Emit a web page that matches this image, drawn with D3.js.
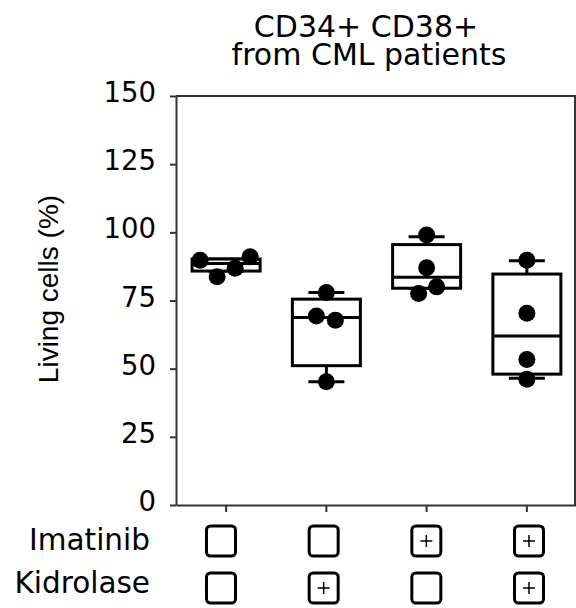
<!DOCTYPE html>
<html>
<head>
<meta charset="utf-8">
<script src="https://cdn.jsdelivr.net/npm/d3@7"></script>
<style>
	body { margin: 0; background: #fff; }
	svg { display: block; }
	.axis path, .axis line { stroke: #333; stroke-width: 2; }
	.axis text { font-family: "DejaVu Sans", Verdana, sans-serif; font-size: 27.5px; fill: #000; }
</style>
</head>
<body>
<div id="chart"></div>
<script>
// Conditions (one per group)
const groups    = ["ctrl", "kid", "ima", "ima+kid"];
const imatinib  = [false, false, true, true];
const kidrolase = [false, true, false, true];

// Living cells (%) per patient, one list per group
const livingCells = [
	[89.8, 83.7, 86.8, 91.0],
	[77.9, 69.3, 67.8, 45.2],
	[99.0, 77.6, 80.0, 87.0],
	[89.8, 70.3, 53.4, 46.1]
];

// Box plot statistics per group
const whiskerLow  = [85.8, 45.2, 79.5, 46.5];
const boxQ1       = [85.8, 51.1, 79.5, 48.0];
const boxMedian   = [88.6, 68.8, 83.5, 62.0];
const boxQ3       = [90.2, 75.5, 95.5, 84.7];
const whiskerHigh = [90.2, 77.9, 98.4, 89.6];

const yTicks = [0, 25, 50, 75, 100, 125, 150];

// horizontal scatter offsets of the dots (px), as in the figure
const jitter = [[-26, -9, 9, 24], [0, -10, 9, 0], [0, -8, 10, 0], [0, 0, 0, 0]];

const width = 576, height = 608;
const plotLeft = 176, plotRight = 577, plotTop = 96, plotBottom = 505;

const svg = d3.select("#chart").append("svg")
	.attr("width", width).attr("height", height);

const x = d3.scaleBand(groups, [plotLeft, plotRight]);
const y = d3.scaleLinear([0, 150], [plotBottom, plotTop]);
const boxW = 68, capW = 36, r = 8.5;

// frame (top and right edges)
svg.append("path")
	.attr("d", `M${plotLeft},${plotTop}H575V${plotBottom}`)
	.attr("fill", "none").attr("stroke", "#333").attr("stroke-width", 2);

// Axes
svg.append("g").classed("axis", true)
	.attr("transform", `translate(${plotLeft},0)`)
	.call(d3.axisLeft(y).tickValues(yTicks).tickSize(6).tickSizeOuter(0).tickPadding(14))
	.call(g => g.selectAll("text").attr("dy", 5.5));

svg.append("g").classed("axis", true)
	.attr("transform", `translate(0,${plotBottom})`)
	.call(d3.axisBottom(x).tickSize(7).tickSizeOuter(0).tickFormat(""));

// Boxes
const box = svg.append("g").selectAll("g.box")
	.data(groups)
	.join("g").classed("box", true)
	.attr("transform", d => `translate(${x(d) + x.bandwidth() / 2},0)`);

box.append("line")
	.attr("y1", (d, i) => y(whiskerLow[i])).attr("y2", (d, i) => y(whiskerHigh[i]))
	.attr("stroke", "#000").attr("stroke-width", 3);

box.selectAll("line.cap")
	.data((d, i) => [whiskerLow[i], whiskerHigh[i]])
	.join("line").classed("cap", true)
	.attr("x1", -capW / 2).attr("x2", capW / 2)
	.attr("y1", v => y(v)).attr("y2", v => y(v))
	.attr("stroke", "#000").attr("stroke-width", 3);

box.append("rect")
	.attr("x", -boxW / 2).attr("width", boxW)
	.attr("y", (d, i) => y(boxQ3[i]))
	.attr("height", (d, i) => y(boxQ1[i]) - y(boxQ3[i]))
	.attr("fill", "#fff").attr("stroke", "#000").attr("stroke-width", 3);

box.append("line")
	.attr("x1", -boxW / 2).attr("x2", boxW / 2)
	.attr("y1", (d, i) => y(boxMedian[i])).attr("y2", (d, i) => y(boxMedian[i]))
	.attr("stroke", "#000").attr("stroke-width", 3);

box.selectAll("circle")
	.data((d, i) => livingCells[i].map((v, j) => [v, jitter[i][j]]))
	.join("circle")
	.attr("cx", d => d[1]).attr("cy", d => y(d[0])).attr("r", r)
	.attr("fill", "#000");

// Title
const title = svg.append("text")
	.attr("text-anchor", "middle")
	.style("font-family", "'DejaVu Sans', Verdana, sans-serif").style("font-size", "30px");
title.append("tspan").attr("x", 366).attr("y", 37).text("CD34+ CD38+");
title.append("tspan").attr("x", 369).attr("y", 65).text("from CML patients");

// Y label
svg.append("text")
	.attr("transform", "translate(58,289)rotate(-90)")
	.attr("text-anchor", "middle")
	.style("font-family", "'Liberation Sans', Arial, sans-serif").style("font-size", "28px")
	.text("Living cells (%)");

// Condition table
const cx = d3.scalePoint(groups, [221, 529]);
const rows = [["Imatinib", imatinib, 541, 550], ["Kidrolase", kidrolase, 588, 593]];

rows.forEach(([name, flags, cy, base]) => {
	svg.append("text")
		.attr("x", 150).attr("y", base).attr("text-anchor", "end")
		.style("font-family", "'DejaVu Sans', Verdana, sans-serif").style("font-size", "29.5px")
		.text(name);

	const cell = svg.append("g").selectAll("g")
		.data(groups)
		.join("g")
		.attr("transform", d => `translate(${cx(d)},${cy})`);

	cell.append("rect")
		.attr("x", -14.5).attr("y", -15).attr("width", 29).attr("height", 30).attr("rx", 4)
		.attr("fill", "none").attr("stroke", "#000").attr("stroke-width", 3);

	cell.filter((d, i) => flags[i]).append("path")
		.attr("d", "M-6,0H6M0,-6V6")
		.attr("stroke", "#000").attr("stroke-width", 1.5);
});
</script>
</body>
</html>
